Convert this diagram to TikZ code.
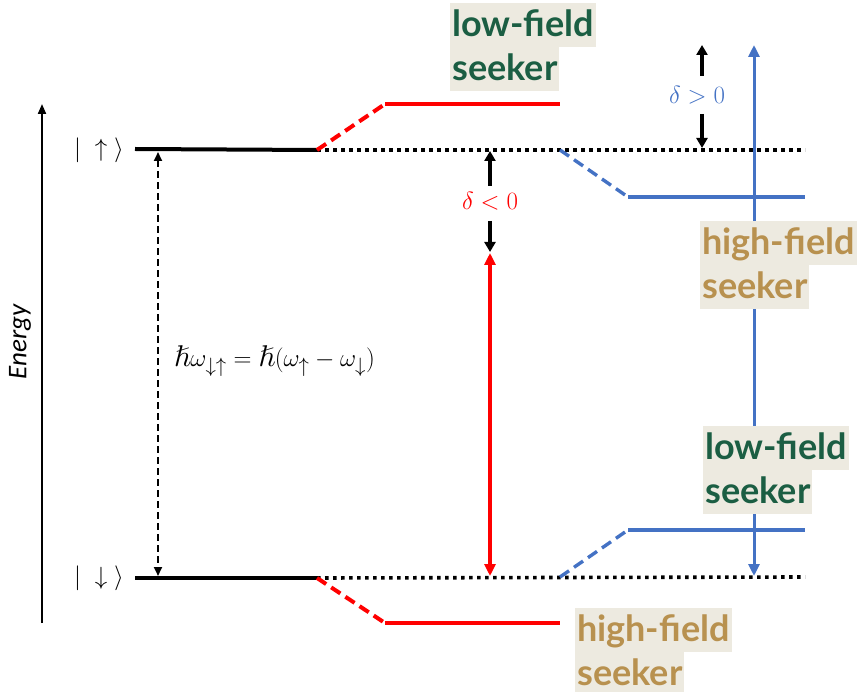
\documentclass[tikz,border=0pt]{standalone}
\usepackage{amssymb}
\usepackage{fontspec}
\newfontfamily\labelfont{Lato}
\newfontfamily\axisfont{Carlito}
\usetikzlibrary{arrows.meta}
\definecolor{bgc}{HTML}{EDEAE0}
\definecolor{grn}{HTML}{1B5E43}
\definecolor{tanc}{HTML}{B8914F}
\definecolor{myblue}{HTML}{4472C4}
\definecolor{myred}{HTML}{FF0000}
\tikzset{
  lbl/.style={fill=bgc, font=\labelfont\bfseries\fontsize{36}{36}\selectfont, inner xsep=2pt, inner ysep=2pt, text height=31pt, text depth=9pt, anchor=north west},
  level/.style={line width=4pt, black},
  dotline/.style={line width=3.6pt, black, dash pattern=on 3.6pt off 4.4pt},
  reddash/.style={line width=4pt, myred, dash pattern=on 11pt off 6pt},
  redline/.style={line width=4pt, myred},
  bluedash/.style={line width=3.4pt, myblue, dash pattern=on 11pt off 6pt},
  blueline/.style={line width=3.4pt, myblue},
  smallarr/.style={line width=3.4pt, black, -{Triangle[width=11pt,length=10pt]}},
  ket/.style={font=\fontsize{31}{31}\selectfont},
}
\begin{document}
\begin{tikzpicture}[x=1pt,y=-1pt]
\useasboundingbox (0,0) rectangle (865,692);
% energy axis
\coordinate (eB) at (42,623);
\coordinate (eT) at (42,104);
\draw[line width=2pt, -{Triangle[width=8pt,length=10pt]}] (eB) -- (eT);
\node[font=\axisfont\itshape\fontsize{27}{27}\selectfont, rotate=90] (energy) at (20,342) {Energy};
% kets
\node[ket] (kup) at (99,150) {$|\;\uparrow\;\rangle$};
\node[ket] (kdn) at (99,578) {$|\;\downarrow\;\rangle$};
% coordinates
\coordinate (uL) at (135,149);
\coordinate (uK) at (317,150);
\coordinate (uR) at (805,150);
\coordinate (dL) at (135,578);
\coordinate (dK) at (317,578);
\coordinate (dR) at (805,577);
\coordinate (ru1) at (385,104);
\coordinate (ru2) at (560,104);
\coordinate (rd1) at (385,623);
\coordinate (rd2) at (560,623);
\coordinate (bu0) at (560,150);
\coordinate (bu1) at (628,197);
\coordinate (bu2) at (805,197);
\coordinate (bd0) at (560,577);
\coordinate (bd1) at (628,530);
\coordinate (bd2) at (805,530);
% levels
\draw[level] (uL) -- (uK);
\draw[level] (dL) -- (dK);
\draw[dotline] (uK) -- (uR);
\draw[dotline] (dK) -- (dR);
\draw[reddash] (uK) -- (ru1);
\draw[redline] (ru1) -- (ru2);
\draw[reddash] (dK) -- (rd1);
\draw[redline] (rd1) -- (rd2);
\draw[bluedash] (bu0) -- (bu1);
\draw[blueline] (bu1) -- (bu2);
\draw[bluedash] (bd0) -- (bd1);
\draw[blueline] (bd1) -- (bd2);
% transition arrow
\coordinate (tA) at (158,152);
\coordinate (tB) at (158,576);
\draw[line width=2.2pt, dash pattern=on 7pt off 4pt, {Triangle[width=8pt,length=9pt]}-{Triangle[width=8pt,length=9pt]}] (tA) -- (tB);
\node[font=\fontsize{30}{30}\selectfont, anchor=west, inner sep=0pt] (formula) at (174,361) {$\hslash\omega_{\downarrow\uparrow}=\hslash(\omega_{\uparrow}-\omega_{\downarrow})$};
% red detuned arrow
\coordinate (rA) at (490,253);
\coordinate (rB) at (490,576);
\draw[line width=3.4pt, myred, {Triangle[width=11pt,length=12pt]}-{Triangle[width=11pt,length=12pt]}] (rA) -- (rB);
\coordinate (ra1) at (490,186);
\coordinate (ra1t) at (490,151);
\coordinate (ra2) at (490,221);
\coordinate (ra2t) at (490,252);
\draw[smallarr] (ra1) -- (ra1t);
\draw[smallarr] (ra2) -- (ra2t);
\node[font=\fontsize{23}{23}\selectfont, text=myred] (dneg) at (490,201) {$\delta<0$};
% blue detuned arrow
\coordinate (bA) at (754,45);
\coordinate (bB) at (754,576);
\draw[line width=3pt, myblue, {Triangle[width=11pt,length=12pt]}-{Triangle[width=11pt,length=12pt]}] (bA) -- (bB);
\coordinate (ba1) at (702,76);
\coordinate (ba1t) at (702,45);
\coordinate (ba2) at (702,114);
\coordinate (ba2t) at (702,148);
\draw[smallarr] (ba1) -- (ba1t);
\draw[smallarr] (ba2) -- (ba2t);
\node[font=\fontsize{23}{23}\selectfont, text=myblue] (dpos) at (697,95) {$\delta>0$};
% labels
\node[lbl, text=grn] (tl1) at (450,3) {low-field};
\node[lbl, text=grn] (tl2) at (450,47) {seeker};
\node[lbl, text=tanc] (rh1) at (700,221) {high-field};
\node[lbl, text=tanc] (rh2) at (700,265) {seeker};
\node[lbl, text=grn] (rl1) at (703,426) {low-field};
\node[lbl, text=grn] (rl2) at (703,470) {seeker};
\node[lbl, text=tanc] (bh1) at (575,608) {high-field};
\node[lbl, text=tanc] (bh2) at (575,652) {seeker};
\end{tikzpicture}
\end{document}
